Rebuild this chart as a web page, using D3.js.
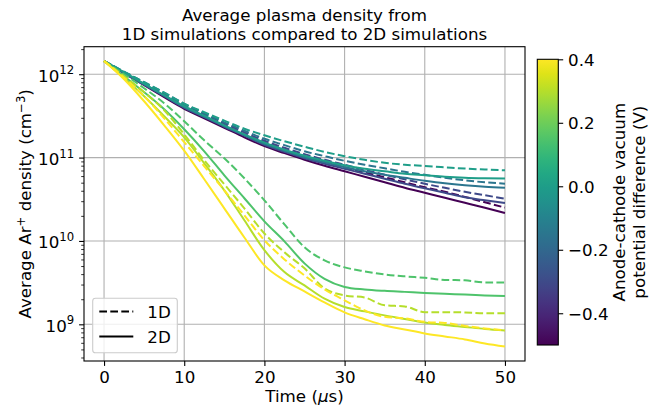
<!DOCTYPE html>
<html><head><meta charset="utf-8">
<script src="https://cdn.jsdelivr.net/npm/d3@7"></script>
<style>body{margin:0;background:#fff} text{font-family:"DejaVu Sans",sans-serif}</style>
</head><body><svg id="c" width="667" height="411"></svg>
<script>
// ---- data ----
const times = [0,2.5,5,7.5,10,12.5,15,17.5,20,22.5,25,27.5,30,32.5,35,37.5,40,42.5,45,47.5,50];
const potentials = [-0.5,-0.3,-0.15,0.0,0.15,0.3,0.4];
const xTicks = [0,10,20,30,40,50];
const yTickExps = [9,10,11,12];
const cbTicks = [-0.4,-0.2,0.0,0.2,0.4];

const oneD_m050 = [1.44e12,1.04e12,7.59e11,5.52e11,4.07e11,3.13e11,2.44e11,1.90e11,1.51e11,1.24e11,1.04e11,8.90e10,7.65e10,6.66e10,5.80e10,5.05e10,4.40e10,3.89e10,3.38e10,2.91e10,2.51e10];
const twoD_m050 = [1.44e12,1.03e12,7.38e11,5.30e11,3.85e11,2.96e11,2.28e11,1.75e11,1.37e11,1.13e11,9.41e10,7.97e10,6.85e10,5.88e10,5.05e10,4.34e10,3.78e10,3.29e10,2.87e10,2.50e10,2.16e10];
const oneD_m030 = [1.44e12,1.06e12,7.80e11,5.75e11,4.30e11,3.31e11,2.58e11,2.01e11,1.59e11,1.31e11,1.10e11,9.41e10,8.20e10,7.14e10,6.22e10,5.49e10,4.85e10,4.34e10,3.89e10,3.53e10,3.22e10];
const twoD_m030 = [1.44e12,1.03e12,7.48e11,5.44e11,3.96e11,3.05e11,2.34e11,1.83e11,1.42e11,1.17e11,9.81e10,8.43e10,7.34e10,6.39e10,5.57e10,4.85e10,4.28e10,3.78e10,3.34e10,3.07e10,2.85e10];
const oneD_m015 = [1.44e12,1.07e12,8.02e11,6.00e11,4.42e11,3.40e11,2.65e11,2.10e11,1.68e11,1.41e11,1.19e11,1.04e11,9.15e10,8.20e10,7.44e10,6.75e10,6.22e10,5.72e10,5.34e10,5.05e10,4.87e10];
const twoD_m015 = [1.44e12,1.04e12,7.59e11,5.52e11,4.02e11,3.09e11,2.38e11,1.85e11,1.46e11,1.21e11,1.01e11,8.78e10,7.65e10,6.85e10,6.22e10,5.72e10,5.27e10,4.91e10,4.65e10,4.46e10,4.34e10];
const oneD_p000 = [1.44e12,1.07e12,8.02e11,6.00e11,4.42e11,3.50e11,2.77e11,2.22e11,1.85e11,1.57e11,1.35e11,1.17e11,1.04e11,9.41e10,8.66e10,8.20e10,7.93e10,7.65e10,7.38e10,7.20e10,7.04e10];
const twoD_p000 = [1.44e12,1.06e12,7.69e11,5.60e11,4.13e11,3.18e11,2.44e11,1.90e11,1.51e11,1.24e11,1.05e11,9.15e10,8.09e10,7.34e10,6.85e10,6.39e10,6.13e10,5.88e10,5.72e10,5.64e10,5.60e10];
const oneD_p015 = [1.44e12,1.00e12,6.79e11,4.49e11,2.73e11,1.61e11,9.81e10,5.64e10,3.07e10,1.58e10,8.38e9,5.85e9,4.82e9,4.32e9,3.97e9,3.76e9,3.61e9,3.41e9,3.37e9,3.18e9,3.18e9];
const twoD_p015 = [1.44e12,9.46e11,6.08e11,3.80e11,2.19e11,1.19e11,6.13e10,3.25e10,1.72e10,9.89e9,5.38e9,3.51e9,2.81e9,2.62e9,2.52e9,2.45e9,2.38e9,2.32e9,2.28e9,2.22e9,2.18e9];
const oneD_p030 = [1.44e12,9.46e11,6.08e11,3.70e11,1.90e11,9.28e10,4.78e10,2.46e10,1.23e10,7.30e9,4.69e9,2.70e9,2.22e9,2.10e9,1.69e9,1.64e9,1.40e9,1.40e9,1.39e9,1.36e9,1.36e9];
const twoD_p030 = [1.44e12,8.95e11,5.44e11,3.13e11,1.75e11,8.54e10,4.05e10,1.77e10,7.76e9,4.23e9,2.93e9,2.03e9,1.61e9,1.43e9,1.28e9,1.16e9,1.05e9,9.83e8,9.31e8,8.81e8,8.45e8];
const oneD_p040 = [1.44e12,9.08e11,5.44e11,2.96e11,1.53e11,7.86e10,4.05e10,2.03e10,1.02e10,6.01e9,3.86e9,2.62e9,1.94e9,1.47e9,1.23e9,1.18e9,1.07e9,1.04e9,9.57e8,8.93e8,8.45e8];
const twoD_p040 = [1.44e12,8.71e11,4.74e11,2.44e11,1.21e11,5.49e10,2.46e10,1.10e10,5.09e9,3.37e9,2.48e9,1.83e9,1.39e9,1.15e9,9.70e8,8.69e8,7.78e8,7.16e8,6.59e8,5.90e8,5.43e8];

const oneD = [oneD_m050,oneD_m030,oneD_m015,oneD_p000,oneD_p015,oneD_p030,oneD_p040];
const twoD = [twoD_m050,twoD_m030,twoD_m015,twoD_p000,twoD_p015,twoD_p030,twoD_p040];

// ---- layout ----
const svg = d3.select("#c");
const L=84, R=525, T=46.7, B=361;
const FS = 16.7;
const x = d3.scaleLinear().domain([-2.5,52.5]).range([L,R]);
const y = d3.scaleLog().domain([Math.pow(10,8.56),Math.pow(10,12.33)]).range([B,T]);
const color = d3.scaleSequential(d3.interpolateViridis).domain([-0.5,0.4]);

// grid
const yTickVals = yTickExps.map(e=>Math.pow(10,e));
svg.append("g").selectAll("line").data(xTicks).join("line")
  .attr("x1",d=>x(d)).attr("x2",d=>x(d)).attr("y1",T).attr("y2",B)
  .attr("stroke","#b0b0b0").attr("stroke-width",1.1);
svg.append("g").selectAll("line").data(yTickVals).join("line")
  .attr("x1",L).attr("x2",R).attr("y1",d=>y(d)).attr("y2",d=>y(d))
  .attr("stroke","#b0b0b0").attr("stroke-width",1.1);

// lines
const line = d3.line().x((d,i)=>x(times[i])).y(d=>y(d)).curve(d3.curveMonotoneX);
const gl = svg.append("g");
potentials.forEach((p,k)=>{
  gl.append("path").attr("d",line(oneD[k])).attr("fill","none")
    .attr("stroke",color(p)).attr("stroke-width",2).attr("stroke-dasharray","7.7,3.3");
  gl.append("path").attr("d",line(twoD[k])).attr("fill","none")
    .attr("stroke",color(p)).attr("stroke-width",2);
});

// frame
svg.append("rect").attr("x",L).attr("y",T).attr("width",R-L).attr("height",B-T)
  .attr("fill","none").attr("stroke","#000").attr("stroke-width",1.1);

// x axis
const gx = svg.append("g").attr("transform",`translate(0,${B})`)
  .call(d3.axisBottom(x).tickValues(xTicks).tickSize(4.9).tickPadding(4.9).tickFormat(d3.format("d")));
gx.select(".domain").remove();
gx.attr("font-size",FS).attr("font-family","DejaVu Sans");
gx.selectAll("line").attr("stroke","#000").attr("stroke-width",1.1);
gx.selectAll("text").attr("fill","#000");

// y axis
const gy = svg.append("g").attr("transform",`translate(${L},0)`)
  .call(d3.axisLeft(y).tickValues(yTickVals).tickSize(4.9).tickPadding(4.9).tickFormat(()=>""));
gy.select(".domain").remove();
gy.attr("font-size",FS).attr("font-family","DejaVu Sans");
gy.selectAll("line").attr("stroke","#000").attr("stroke-width",1.1);
gy.selectAll(".tick text").attr("fill","#000").attr("dy","0.42em").each(function(d){
  const t = d3.select(this);
  t.append("tspan").text("10");
  t.append("tspan").attr("dy",-7.5).attr("font-size",11.7).text(Math.round(Math.log10(d)));
});
const minors = [];
for (let e=8;e<=12;e++) for (let m=2;m<=9;m++){ const v=m*Math.pow(10,e); if (v>=y.domain()[0] && v<=y.domain()[1]) minors.push(v); }
const gym = svg.append("g").attr("transform",`translate(${L},0)`)
  .call(d3.axisLeft(y).tickValues(minors).tickSize(2.8).tickFormat(()=>""));
gym.select(".domain").remove();
gym.selectAll("line").attr("stroke","#000").attr("stroke-width",0.8);

// axis labels
svg.append("text").attr("x",(L+R)/2).attr("y",402).attr("text-anchor","middle").attr("font-size",FS)
  .call(t=>{ t.append("tspan").text("Time ("); t.append("tspan").attr("font-style","italic").text("μ"); t.append("tspan").text("s)"); });
svg.append("text").attr("transform",`translate(31,${(T+B)/2}) rotate(-90)`).attr("text-anchor","middle").attr("font-size",FS)
  .call(t=>{
    t.append("tspan").text("Average Ar");
    t.append("tspan").attr("dy",-6.5).attr("font-size",11.7).text("+");
    t.append("tspan").attr("dy",6.5).text(" density (cm");
    t.append("tspan").attr("dy",-6.5).attr("font-size",11.7).text("−3");
    t.append("tspan").attr("dy",6.5).text(")");
  });

// title
svg.append("text").attr("x",(L+R)/2).attr("y",21).attr("text-anchor","middle").attr("font-size",FS).text("Average plasma density from");
svg.append("text").attr("x",(L+R)/2).attr("y",40).attr("text-anchor","middle").attr("font-size",FS).text("1D simulations compared to 2D simulations");

// legend
const lg = svg.append("g");
lg.append("rect").attr("x",92.7).attr("y",298.3).attr("width",84.6).attr("height",54.4).attr("rx",2.8)
  .attr("fill","#fff").attr("fill-opacity",0.8).attr("stroke","#cccccc").attr("stroke-width",1.1);
const legendItems = [{label:"1D",dash:"7.7,3.3",yy:311.5},{label:"2D",dash:null,yy:336.5}];
legendItems.forEach(it=>{
  lg.append("line").attr("x1",99.3).attr("x2",133.3).attr("y1",it.yy).attr("y2",it.yy)
    .attr("stroke","#000").attr("stroke-width",2).attr("stroke-dasharray",it.dash);
  lg.append("text").attr("x",147.3).attr("y",it.yy+6.2).attr("font-size",FS).text(it.label);
});

// colorbar
const cbX=537.3, cbW=21, cbT=59.3, cbB=345;
const cb = d3.scaleLinear().domain([-0.5,0.4]).range([cbB,cbT]);
const grad = svg.append("defs").append("linearGradient").attr("id","vir").attr("x1",0).attr("y1",1).attr("x2",0).attr("y2",0);
d3.range(0,1.0001,0.05).forEach(s=>grad.append("stop").attr("offset",s).attr("stop-color",d3.interpolateViridis(s)));
svg.append("rect").attr("x",cbX).attr("y",cbT).attr("width",cbW).attr("height",cbB-cbT)
  .attr("fill","url(#vir)").attr("stroke","#000").attr("stroke-width",1.1);
const gc = svg.append("g").attr("transform",`translate(${cbX+cbW},0)`)
  .call(d3.axisRight(cb).tickValues(cbTicks).tickSize(4.9).tickPadding(4.9).tickFormat(d3.format(".1f")));
gc.select(".domain").remove();
gc.attr("font-size",FS).attr("font-family","DejaVu Sans");
gc.selectAll("line").attr("stroke","#000").attr("stroke-width",1.1);
gc.selectAll("text").attr("fill","#000").attr("dy","0.37em");
const cy = (cbT+cbB)/2;
svg.append("text").attr("transform",`translate(625,${cy}) rotate(-90)`).attr("text-anchor","middle").attr("font-size",FS).text("Anode-cathode vacuum");
svg.append("text").attr("transform",`translate(645,${cy}) rotate(-90)`).attr("text-anchor","middle").attr("font-size",FS).text("potential difference (V)");
</script></body></html>
